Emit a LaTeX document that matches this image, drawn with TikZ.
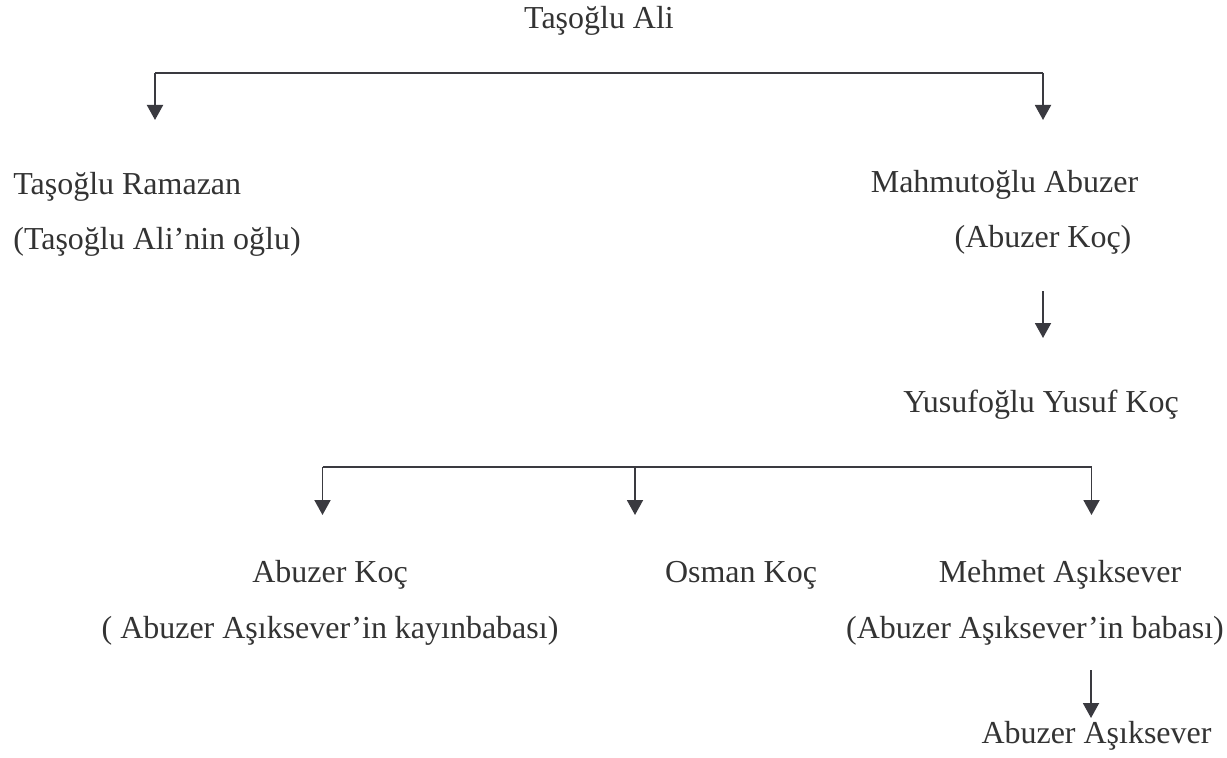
\documentclass[tikz,border=0pt]{standalone}
\usepackage{fontspec}
\setmainfont{Liberation Serif}
\usetikzlibrary{arrows.meta}

\definecolor{inkgray}{HTML}{3A3A40}
\definecolor{textgray}{HTML}{333333}

\tikzset{
  person/.style={inner sep=0pt, text=textgray, font=\fontsize{18.2}{21}\selectfont},
  link/.style={draw=inkgray, line width=1.1pt},
  down/.style={link, -{Triangle[width=0.32cm,length=0.3cm]}}
}

\begin{document}
\begin{tikzpicture}
\useasboundingbox (0,0) rectangle (24.54,-15.16);
\node [person, anchor=base] (ali) at (11.98,-0.57) {Taşoğlu Ali};
\node [person, anchor=base west] (ramazan) at (0.26,-3.88) {Taşoğlu Ramazan};
\node [person, anchor=base west] (ramazannote) at (0.26,-4.98) {(Taşoğlu Ali’nin oğlu)};
\node [person, anchor=base] (mahmut) at (20.09,-3.86) {Mahmutoğlu Abuzer};
\node [person, anchor=base] (mahmutnote) at (20.86,-4.96) {(Abuzer Koç)};
\node [person, anchor=base west] (yusuf) at (18.06,-8.24) {Yusufoğlu Yusuf Koç};
\node [person, anchor=base] (abuzerkoc) at (6.6,-11.64) {Abuzer Koç};
\node [person, anchor=base] (abuzerkocnote) at (6.6,-12.76) {( Abuzer Aşıksever’in kayınbabası)};
\node [person, anchor=base] (osman) at (14.82,-11.64) {Osman Koç};
\node [person, anchor=base] (mehmet) at (21.2,-11.64) {Mehmet Aşıksever};
\node [person, anchor=base] (mehmetnote) at (20.7,-12.76) {(Abuzer Aşıksever’in babası)};
\node [person, anchor=base] (abuzer) at (21.93,-14.86) {Abuzer Aşıksever};
% bracket under Taşoğlu Ali
\coordinate (topl) at (3.1,-1.46);
\coordinate (topr) at (20.86,-1.46);
\coordinate (topltip) at (3.1,-2.4);
\coordinate (toprtip) at (20.86,-2.4);
\draw [link] (topl) -- (topr);
\draw [down] (topl) -- (topltip);
\draw [down] (topr) -- (toprtip);
% Abuzer Koç -> Yusuf
\coordinate (midtop) at (20.86,-5.82);
\coordinate (midtip) at (20.86,-6.76);
\draw [down] (midtop) -- (midtip);
% bracket under Yusuf
\coordinate (lowl) at (6.45,-9.34);
\coordinate (lowm) at (12.7,-9.34);
\coordinate (lowr) at (21.83,-9.34);
\coordinate (lowltip) at (6.45,-10.3);
\coordinate (lowmtip) at (12.7,-10.3);
\coordinate (lowrtip) at (21.83,-10.3);
\draw [link] (lowl) -- (lowr);
\draw [down] (lowl) -- (lowltip);
\draw [down] (lowm) -- (lowmtip);
\draw [down] (lowr) -- (lowrtip);
% Mehmet -> Abuzer
\coordinate (bottop) at (21.82,-13.4);
\coordinate (bottip) at (21.82,-14.36);
\draw [down] (bottop) -- (bottip);
\end{tikzpicture}
\end{document}
